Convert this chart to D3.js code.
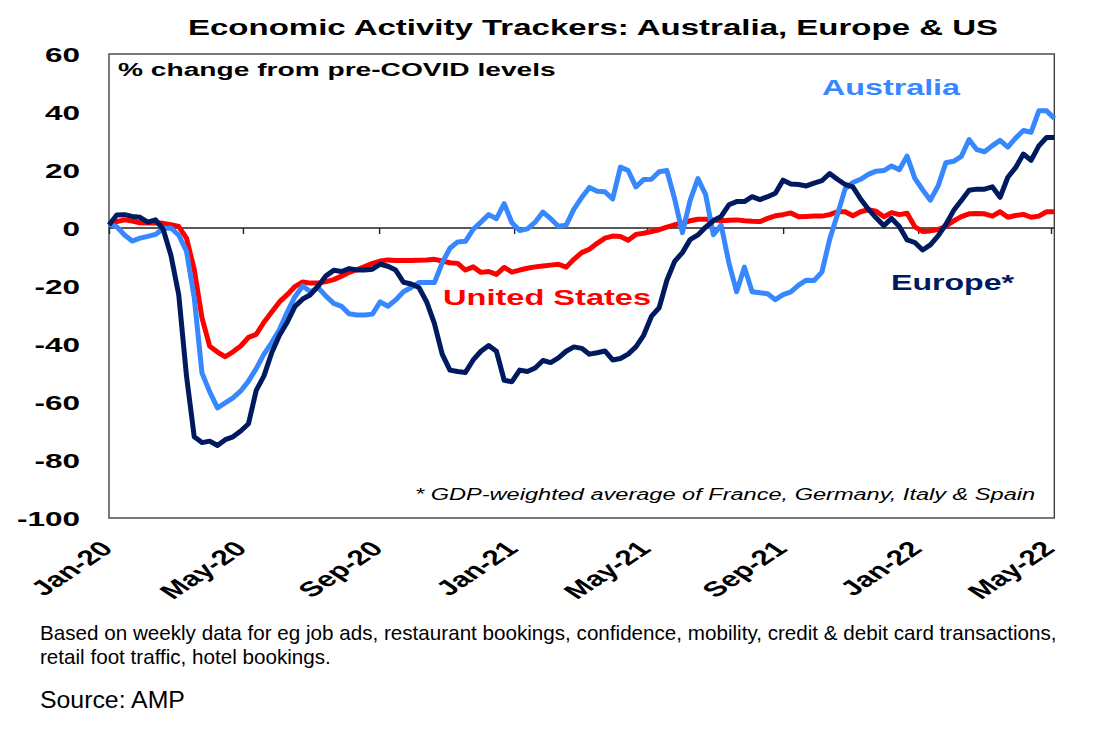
<!DOCTYPE html>
<html><head><meta charset="utf-8">
<script src="https://cdn.jsdelivr.net/npm/d3@7"></script>
<style>
body{margin:0;background:#fff;}
svg{display:block;font-family:"Liberation Sans",Arial,Helvetica,sans-serif;}
</style>
</head><body>
<svg id="chart" width="1093" height="733"></svg>
<script>
// ---- data (weekly observations, % change from pre-COVID levels) ----
const firstWeek = "2020-01-01";
const xTickLabels = ["Jan-20","May-20","Sep-20","Jan-21","May-21","Sep-21","Jan-22","May-22"];
const yTicks = [-100,-80,-60,-40,-20,0,20,40,60];

const australia = [1.4,0.4,-2.4,-4.5,-3.5,-2.9,-2.2,-0.2,0,-2.5,
-8,-24,-50,-56.5,-62,-60.3,-58.6,-56.2,-52.8,-48.5,
-43.5,-39.5,-35,-29,-23.7,-20,-22,-20.6,-23.5,-26,
-27,-29.6,-30,-30,-29.7,-25.5,-27,-24.8,-22,-20.5,
-18.8,-18.8,-18.8,-12,-7,-4.8,-4.6,-0.5,2,4.6,
3.2,8.4,1.8,-0.9,-0.3,2,5.5,3.2,0.6,1,
6.5,10.5,14,12.7,12.5,10,21,19.8,14.2,16.7,
16.8,19.4,19.8,10,-1.6,9.5,17,11.5,-2.3,1,
-12,-22,-13.5,-22,-22.3,-22.7,-24.7,-23,-22,-19.7,
-18,-18.1,-15.2,-4,4.6,13.5,15.7,16.8,18.5,19.6,
19.8,21.4,20.1,24.8,17.1,13.2,9.6,14.5,22.5,23,
24.7,30.5,27,26.3,28.4,30.2,27.9,31,33.6,33,
40.4,40.4,37.8];

const europe = [1,4.5,4.6,4.0,3.7,2.0,2.8,-0.5,-9.5,-23,
-51,-72,-74,-73.5,-75,-73,-72,-70,-67.5,-56,
-51,-43,-37,-32.5,-27,-24.5,-23,-20,-16.5,-14.6,
-15,-14,-14.5,-14.5,-14.2,-12.5,-13.2,-14.5,-18.7,-19.3,
-20.5,-25.5,-33,-43.5,-49,-49.5,-49.8,-45.5,-42.5,-40.5,
-42.5,-52.5,-53,-49,-49.5,-48.3,-45.7,-46.4,-44.8,-42.5,
-41,-41.5,-43.5,-43,-42.4,-45.5,-45,-43.5,-41,-37,
-30.5,-27.5,-18,-11.5,-8.5,-4,-2.4,0.3,2.5,4,
8,9.1,9.1,10.8,9.8,10.8,12,16.5,15.2,15,
14.5,15.5,16.3,18.8,16.8,15,14.2,10,6.5,3.5,
0.8,3.3,0.5,-4.1,-5,-7.6,-5.8,-2.7,1.2,6,
9.5,13,13.4,13.4,14.2,10.6,17.5,20.8,25.5,23.3,
28.3,31.2,31.2];

const unitedStates = [1,2.2,2.8,2.4,1.8,1.7,1.8,1.6,1.1,0.5,
-3.5,-14.3,-31,-40.8,-42.8,-44.4,-42.7,-40.7,-37.7,-36.7,
-32.5,-29,-25.5,-23,-20.2,-18.6,-19,-19,-18.5,-17.8,
-16.6,-15.3,-14.3,-13.3,-12.2,-11.4,-11,-11.2,-11.2,-11.2,
-11.1,-11,-10.8,-11.4,-12,-12.2,-14.5,-13.4,-15.3,-15,
-16,-13.6,-15.2,-14.5,-13.9,-13.4,-13.1,-12.8,-12.5,-13.5,
-10.8,-8.5,-7.3,-5.3,-3.5,-2.8,-2.9,-4.2,-2.2,-1.8,
-1.2,-0.6,0.3,1.1,1.7,2.5,3,3,2.8,2.5,
2.7,2.8,2.5,2.3,2.2,3.3,4.2,4.6,5.2,3.9,
4,4.1,4.1,4.6,5.6,5.6,4.2,5.6,6.3,5.8,
3.9,5.3,4.6,5.1,0.4,-1.2,-1,-0.5,0.6,2.4,
3.9,4.9,5,4.9,4.1,5.6,3.7,4.3,4.7,3.7,
4.1,5.6,5.6];

const seriesNames = ["United States","Australia","Europe*"];
const seriesColors = ["#ff0000","#3787ff","#001a60"];

// ---- layout ----
const svg = d3.select("#chart");
const SX = 1.5; // horizontal stretch of chart lettering
const parseTick = d3.timeParse("%b-%y");
const tickDates = xTickLabels.map(parseTick);
const start = d3.timeParse("%Y-%m-%d")(firstWeek);
const dates = australia.map((_, i) => d3.timeDay.offset(start, 7 * i));

const x = d3.scaleTime().domain([tickDates[0], tickDates[tickDates.length - 1]]).range([109, 1051]);
const y = d3.scaleLinear().domain([-100, 60]).range([518, 54]);
const xEnd = x(dates[dates.length - 1]);

function fit(sel, w, sx) {
  const fs = parseFloat(sel.attr("font-size"));
  const len = sel.node().getComputedTextLength();
  sel.attr("font-size", fs * w / (sx * len));
  return sel;
}

// frame
svg.append("rect")
  .attr("x", x.range()[0]).attr("y", y(60))
  .attr("width", xEnd - x.range()[0]).attr("height", y(-100) - y(60))
  .attr("fill", "none").attr("stroke", "#404040").attr("stroke-width", 1.4);

// zero line + ticks
const zeroAxis = svg.append("g").attr("transform", `translate(0,${y(0)})`)
  .call(d3.axisBottom(x).tickValues(tickDates).tickSize(6).tickFormat(""));
zeroAxis.select(".domain").remove();
zeroAxis.selectAll(".tick line").attr("stroke", "#222").attr("stroke-width", 1.4);
svg.append("line")
  .attr("x1", x.range()[0]).attr("x2", xEnd)
  .attr("y1", y(0)).attr("y2", y(0))
  .attr("stroke", "#222").attr("stroke-width", 1.4);

// y axis labels
const yAxis = svg.append("g").attr("transform", `translate(${x.range()[0]},0)`)
  .call(d3.axisLeft(y).tickValues(yTicks).tickSize(0).tickFormat(d => String(d)));
yAxis.select(".domain").remove();
yAxis.selectAll(".tick text")
  .attr("x", 0).attr("dy", "0.35em")
  .attr("transform", `translate(-29,0) scale(${SX},1)`)
  .attr("text-anchor", "end")
  .attr("font-size", 21).attr("font-weight", "bold").attr("fill", "#000")
  .attr("font-family", null);

// x axis labels (rotated)
const xAxis = svg.append("g").attr("transform", `translate(0,${y(-100)})`)
  .call(d3.axisBottom(x).tickValues(tickDates).tickSize(0).tickFormat((d, i) => xTickLabels[i]));
xAxis.select(".domain").remove();
xAxis.selectAll(".tick text")
  .attr("y", 0).attr("dy", 0)
  .attr("transform", `translate(5,32) scale(${SX},1) rotate(-45)`)
  .attr("text-anchor", "end")
  .attr("font-size", 21).attr("font-weight", "bold").attr("fill", "#000")
  .attr("font-family", null);

// lines
const line = d3.line().x((d, i) => x(dates[i])).y(d => y(d));
[unitedStates, australia, europe].forEach((s, k) => {
  svg.append("path").datum(s)
    .attr("d", line)
    .attr("fill", "none")
    .attr("stroke", seriesColors[k])
    .attr("stroke-width", 5)
    .attr("stroke-linejoin", "round");
});

// chart texts
function chartText(str, x0, y0, w, opts) {
  const t = svg.append("text")
    .attr("transform", `translate(${x0},${y0}) scale(${opts.sx},1)`)
    .attr("text-anchor", opts.anchor || "start")
    .attr("font-size", opts.size || 20)
    .attr("font-weight", opts.weight || "normal")
    .attr("font-style", opts.style || "normal")
    .attr("fill", opts.fill || "#000")
    .text(str);
  fit(t, w, opts.sx);
  return t;
}
chartText("Economic Activity Trackers: Australia, Europe & US", 593, 35, 810, {sx: SX, anchor: "middle", weight: "bold", size: 22});
chartText("% change from pre-COVID levels", 118, 75.5, 438, {sx: SX, weight: "bold", size: 19});
chartText(seriesNames[1], 822, 94.5, 138, {sx: SX, weight: "bold", size: 21, fill: seriesColors[1]});
chartText(seriesNames[0], 443, 305, 208, {sx: SX, weight: "bold", size: 21, fill: seriesColors[0]});
chartText(seriesNames[2], 891, 290, 123, {sx: SX, weight: "bold", size: 21, fill: seriesColors[2]});
chartText("* GDP-weighted average of France, Germany, Italy & Spain", 415, 500, 620, {sx: SX, style: "italic", size: 12});

// footer
const f1 = chartText("Based on weekly data for eg job ads, restaurant bookings, confidence, mobility, credit & debit card transactions,", 40, 640, 1017, {sx: 1, size: 18});
svg.append("text")
  .attr("x", 40).attr("y", 664)
  .attr("font-size", f1.attr("font-size")).attr("fill", "#000")
  .text("retail foot traffic, hotel bookings.");
chartText("Source: AMP", 40, 708, 145, {sx: 1, size: 25});
</script>
</body></html>
